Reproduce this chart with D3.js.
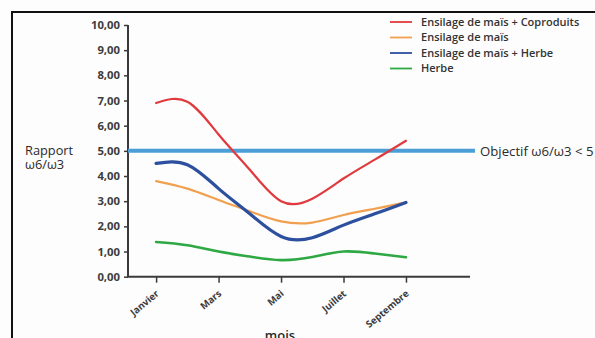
<!DOCTYPE html>
<html>
<head>
<meta charset="utf-8">
<script src="https://cdn.jsdelivr.net/npm/d3@7"></script>
<style>
  html, body { margin: 0; padding: 0; background: #fdfdfd; }
  svg { display: block; }
  text { font-family: "Open Sans", "Noto Sans", sans-serif; }
</style>
</head>
<body>
<svg id="chart" width="595" height="338"></svg>
<script>
// Monthly ratio omega-6 / omega-3 in milk, by feeding system
const months = ["Janvier", "Février", "Mars", "Avril", "Mai", "Juin", "Juillet", "Août", "Septembre"];
const monthIndex = [1, 2, 3, 4, 5, 6, 7, 8, 9];
const tickMonths = [1, 3, 5, 7, 9];
const tickLabels = ["Janvier", "Mars", "Mai", "Juillet", "Septembre"];
const yTicks = [0, 1, 2, 3, 4, 5, 6, 7, 8, 9, 10];

const seriesNames = ["Ensilage de maïs + Coproduits", "Ensilage de maïs", "Ensilage de maïs + Herbe", "Herbe"];
const coproduits = [6.9, 6.95, 5.65, 4.25, 3.0, 3.1, 3.9, 4.65, 5.4];
const ensilage   = [3.8, 3.5, 3.05, 2.6, 2.2, 2.15, 2.45, 2.7, 2.95];
const ensHerbe   = [4.5, 4.45, 3.5, 2.5, 1.6, 1.55, 2.05, 2.5, 2.95];
const herbe      = [1.38, 1.25, 1.0, 0.8, 0.66, 0.78, 1.0, 0.92, 0.77];
const objectif = 5;

const colors = ["#e03a3e", "#f0a04e", "#2c4f9e", "#2ea843"];
const widths = [2.2, 2.2, 3.2, 2.6];
const values = [coproduits, ensilage, ensHerbe, herbe];

const svg = d3.select("#chart");

// outer frame (left and top edges visible)
svg.append("path")
  .attr("d", "M12,340 L12,12 L600,12")
  .attr("fill", "none").attr("stroke", "#111").attr("stroke-width", 2);

const x = d3.scaleLinear().domain([0.1, 11.05]).range([128, 470]);
const y = d3.scaleLinear().domain([0, 10]).range([276.7, 25]);

const fmt = v => d3.format(".2f")(v).replace(".", ",");

// y axis
const yAxis = svg.append("g").attr("transform", "translate(128,0)")
  .call(d3.axisLeft(y).tickValues(yTicks).tickSize(4).tickPadding(4).tickFormat(fmt));
yAxis.select(".domain").attr("stroke", "#3a3a3a").attr("stroke-width", 2).attr("d", `M0,${y(10)}V${y(0)}`);
yAxis.selectAll(".tick line").attr("stroke", "#3a3a3a").attr("stroke-width", 1.5);
yAxis.selectAll(".tick text").attr("fill", "#3c3c3c").attr("font-size", 11.3).attr("font-weight", 700);

// x axis
const xAxis = svg.append("g").attr("transform", `translate(0,${y(0)})`)
  .call(d3.axisBottom(x).tickValues(tickMonths).tickSize(6).tickFormat((d, i) => tickLabels[i]));
xAxis.select(".domain").attr("stroke", "#3a3a3a").attr("stroke-width", 2).attr("d", "M127,0H470");
xAxis.selectAll(".tick line").attr("stroke", "#3a3a3a").attr("stroke-width", 1.5);
xAxis.selectAll(".tick text")
  .attr("fill", "#3c3c3c").attr("font-size", 9.6).attr("font-weight", 700)
  .attr("text-anchor", "end").attr("dy", 0).attr("y", 0)
  .attr("transform", "translate(3,18) rotate(-40)");

// objective line
svg.append("line")
  .attr("x1", x(0.1)).attr("x2", 475)
  .attr("y1", y(objectif)).attr("y2", y(objectif))
  .attr("stroke", "#4c9fd6").attr("stroke-width", 4);
svg.append("text").attr("x", 480).attr("y", y(objectif) + 5)
  .attr("font-size", 13.2).attr("fill", "#2a2a2a").text("Objectif ω6/ω3 < 5");

// series curves, smoothed with a natural cubic spline
const line = d3.line()
  .x((d, i) => x(monthIndex[i]))
  .y(d => y(d))
  .curve(d3.curveNatural);

values.forEach((vals, k) => {
  svg.append("path")
    .datum(vals)
    .attr("d", line)
    .attr("fill", "none")
    .attr("stroke", colors[k])
    .attr("stroke-width", widths[k])
    .attr("stroke-linecap", "round");
});

// legend
const legend = svg.append("g").attr("transform", "translate(390,22)");
seriesNames.forEach((name, k) => {
  const g = legend.append("g").attr("transform", `translate(0,${k * 15.5})`);
  g.append("line").attr("x1", 0).attr("x2", 22).attr("y1", 0).attr("y2", 0)
    .attr("stroke", colors[k]).attr("stroke-width", 1.8);
  g.append("text").attr("x", 31).attr("y", 3.8)
    .attr("font-size", 11).attr("font-weight", 600).attr("fill", "#333").text(name);
});

// axis titles
svg.append("text").attr("x", 25).attr("y", 155)
  .attr("font-size", 12.8).attr("fill", "#2a2a2a").text("Rapport");
svg.append("text").attr("x", 25).attr("y", 168.5)
  .attr("font-size", 12.8).attr("fill", "#2a2a2a").text("ω6/ω3");

svg.append("text").attr("x", 280).attr("y", 340).attr("text-anchor", "middle")
  .attr("font-size", 13).attr("font-weight", 600).attr("fill", "#2a2a2a").text("mois");
</script>
</body>
</html>
